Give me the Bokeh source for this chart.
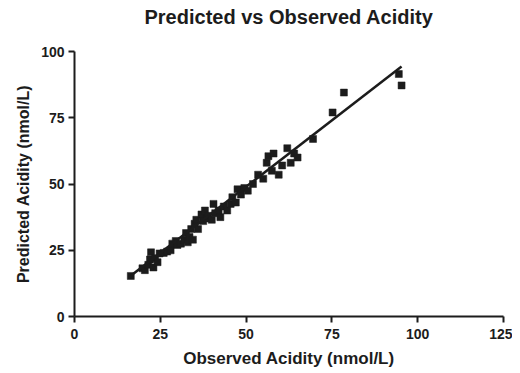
from bokeh.plotting import figure
from bokeh.models import Range1d, FixedTicker, ColumnDataSource, Title
from bokeh.embed import file_html
from bokeh.resources import INLINE

# Data
observed = [16.4, 19.8, 20.5, 21.5, 22.0, 22.3, 23.0, 23.5, 24.2, 24.8,
            26.0, 27.0, 28.0, 28.5, 29.5, 30.0, 31.0, 32.0, 32.5, 33.0,
            33.5, 34.0, 34.5, 35.0, 35.5, 36.0, 37.0, 37.5, 38.0, 38.5,
            39.0, 40.0, 40.5, 41.0, 42.0, 42.5, 43.5, 44.5, 45.5, 46.0,
            47.0, 47.5, 48.5, 49.5, 50.5, 52.0, 53.5, 55.0, 56.0, 56.5,
            57.5, 58.0, 59.5, 60.5, 62.0, 63.0, 64.0, 65.0, 69.5, 75.2,
            78.5, 94.5, 95.3]
predicted = [15.3, 18.2, 17.5, 19.5, 21.5, 24.2, 18.5, 22.0, 20.5, 23.8,
             24.0, 24.5, 25.0, 27.5, 28.5, 27.0, 27.5, 29.0, 31.5, 28.0,
             30.0, 33.0, 29.0, 35.0, 36.5, 33.0, 38.5, 36.0, 40.0, 37.0,
             38.0, 36.5, 42.5, 39.0, 40.0, 37.5, 41.5, 40.0, 42.5, 45.0,
             43.0, 48.0, 46.0, 48.5, 47.5, 50.0, 53.5, 52.0, 58.0, 60.5,
             55.0, 61.5, 53.5, 57.0, 63.5, 58.0, 61.5, 60.0, 67.0, 77.0,
             84.5, 91.5, 87.2]
fit_slope = 1.0
fit_intercept = -1.0
x_ticks = [0, 25, 50, 75, 100, 125]
y_ticks = [0, 25, 50, 75, 100]
title_text = "Predicted vs Observed Acidity"

fit_x = [min(observed), max(observed)]
fit_y = [fit_slope * v + fit_intercept for v in fit_x]

FONT = "Liberation Sans"
INK = "#1c1c1c"

p = figure(width=512, height=371, output_backend="svg", toolbar_location=None,
           x_range=Range1d(0, 125), y_range=Range1d(0, 100),
           min_border_left=74, min_border_right=9, min_border_top=51,
           min_border_bottom=55, title=title_text)
p.title.align = "center"
p.title.vertical_align = "bottom"
p.title.standoff = 0
p.title.text_font = FONT
p.title.text_font_size = "20px"
p.title.text_font_style = "bold"
p.title.text_color = INK

# empty spacer between the title and the plot frame
spacer = Title(text=" ", text_font_size="10px", standoff=10.5)
p.add_layout(spacer, "above")

p.outline_line_color = None
p.xgrid.visible = False
p.ygrid.visible = False
p.background_fill_color = "white"
p.border_fill_color = "white"

for ax in (p.xaxis[0], p.yaxis[0]):
    ax.axis_line_width = 2
    ax.axis_line_color = INK
    ax.major_tick_line_width = 2
    ax.major_tick_line_color = INK
    ax.major_tick_in = 0
    ax.major_tick_out = 6
    ax.minor_tick_line_color = None
    ax.major_label_text_font = FONT
    ax.major_label_text_font_size = "14px"
    ax.major_label_text_font_style = "bold"
    ax.major_label_text_color = INK
    ax.axis_label_text_font = FONT
    ax.axis_label_text_font_style = "bold"
    ax.axis_label_text_color = INK

p.xaxis[0].major_label_standoff = 6
p.xaxis[0].axis_label_standoff = 7
p.xaxis[0].axis_label_text_font_size = "17px"
p.yaxis[0].major_label_standoff = 4
p.yaxis[0].axis_label_standoff = 6
p.yaxis[0].axis_label_text_font_size = "16px"

p.xaxis[0].ticker = FixedTicker(ticks=x_ticks)
p.yaxis[0].ticker = FixedTicker(ticks=y_ticks)
p.xaxis[0].axis_label = "Observed Acidity (nmol/L)"
p.yaxis[0].axis_label = "Predicted Acidity (nmol/L)"

src = ColumnDataSource(dict(x=observed, y=predicted))
p.scatter("x", "y", source=src, marker="square", size=7,
          fill_color=INK, line_color=INK, line_width=0.5)
p.line(fit_x, fit_y, line_color=INK, line_width=2.5)

open("out.html", "w").write(file_html(p, INLINE))
